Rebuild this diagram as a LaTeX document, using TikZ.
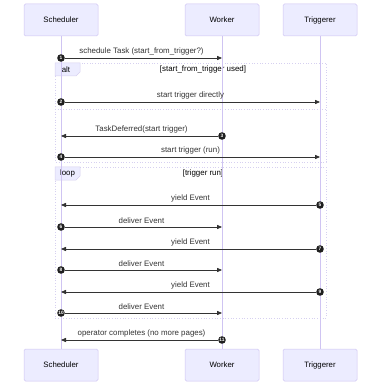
\documentclass[tikz,border=0pt]{standalone}
\usepackage{fontspec}
\setmainfont{Liberation Sans}
\usetikzlibrary{arrows.meta}
\definecolor{actfill}{HTML}{ECECFF}
\definecolor{actline}{HTML}{CFC4F2}
\definecolor{ink}{HTML}{333333}
\definecolor{frameline}{HTML}{D6D0F0}
\begin{document}
\begin{tikzpicture}[x=1pt,y=-1pt,
 actor/.style={draw=actline, fill=actfill, minimum width=74pt, minimum height=32pt, inner sep=0pt, line width=0.5pt, rounded corners=1.5pt, font=\fontsize{7.8}{9}\selectfont, text=black},
 life/.style={draw=actline, line width=0.8pt},
 msgline/.style={draw=ink, line width=0.8pt, -{Triangle[length=5pt,width=4.2pt]}},
 num/.style={circle, fill=ink!60!black, text=white, inner sep=0pt, minimum size=7.6pt, font=\fontsize{4.8}{5}\selectfont\bfseries},
 lbl/.style={text=ink, font=\fontsize{7.9}{9}\selectfont, inner sep=1pt},
 frame/.style={draw=frameline, dotted, line width=0.7pt},
 tab/.style={draw=frameline, fill=actfill, line width=0.5pt},
 ftext/.style={text=black, font=\fontsize{7.9}{9}\selectfont, inner sep=0pt}]
\useasboundingbox (0,0) rectangle (381,387);
% frames
\draw[frame] (55,63) rectangle (326,162);
\draw[frame] (55,109) -- (326,109);
\filldraw[tab] (55,63) -- (80,63) -- (80,72) -- (76,76) -- (55,76) -- cycle;
\node[ftext] (altl) at (66,69.5) {alt};
\node[ftext] (altc) at (203,69.5) {[start\_from\_trigger used]};
\draw[frame] (55,167) rectangle (326,318);
\filldraw[tab] (55,167) -- (80,167) -- (80,176) -- (76,180) -- (55,180) -- cycle;
\node[ftext] (loopl) at (67.5,173.5) {loop};
\node[ftext] (loopc) at (203,173.5) {[trigger run]};
% actors
\node[actor] (sT) at (61,20) {Scheduler};
\node[actor] (wT) at (222,20) {Worker};
\node[actor] (tT) at (320,20) {Triggerer};
\node[actor] (sB) at (61,365) {Scheduler};
\node[actor] (wB) at (222,365) {Worker};
\node[actor] (tB) at (320,365) {Triggerer};
\draw[life] (sT) -- (sB);
\draw[life] (wT) -- (wB);
\draw[life] (tT) -- (tB);
% messages
\newcommand\seqmsg[6]{%
 \node[num] (n#6) at (#1,#3) {#6};
 \coordinate (e#6) at (#2,#3);
 \draw[msgline] (n#6) -- (e#6);
 \node[lbl, anchor=south] (l#6) at ({(#1+#2)/2},{#3-2}) {#4};
}
\seqmsg{61}{222}{58}{schedule Task (start\_from\_trigger?)}{}{1}
\seqmsg{61}{320}{102}{start trigger directly}{}{2}
\seqmsg{222}{61}{136}{TaskDeferred(start trigger)}{}{3}
\seqmsg{61}{320}{157}{start trigger (run)}{}{4}
\seqmsg{320}{61}{205}{yield Event}{}{5}
\seqmsg{61}{222}{227}{deliver Event}{}{6}
\seqmsg{320}{61}{249}{yield Event}{}{7}
\seqmsg{61}{222}{270}{deliver Event}{}{8}
\seqmsg{320}{61}{292}{yield Event}{}{9}
\seqmsg{61}{222}{313}{deliver Event}{}{10}
\seqmsg{222}{61}{340}{operator completes (no more pages)}{}{11}
\end{tikzpicture}
\end{document}
